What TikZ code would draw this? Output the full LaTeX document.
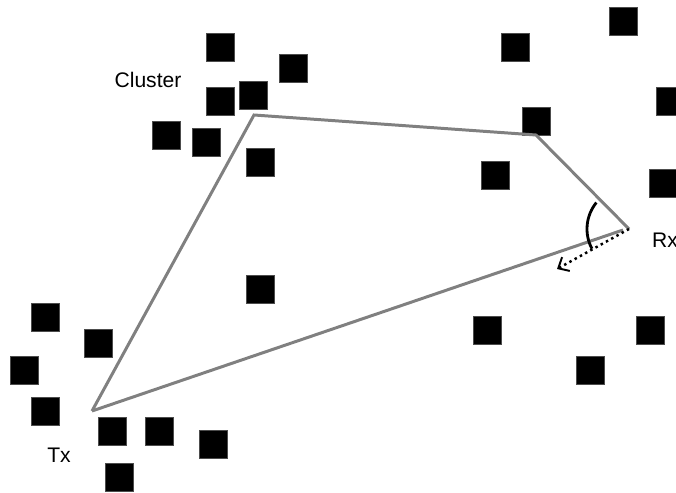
\documentclass[tikz,border=0pt]{standalone}
\usepackage{fontspec}
\setmainfont{Liberation Sans}
\usepackage{tikz}
\usetikzlibrary{arrows.meta, positioning}
\definecolor{raygray}{RGB}{128,128,128}

\begin{document}
\begin{tikzpicture}[
  x=0.02cm, y=-0.02cm,
  scat/.style  = {rectangle, fill=black, draw=black!70, line width=0.3pt,
                  minimum size=0.56cm, inner sep=0pt},
  ray/.style   = {draw=raygray, line width=1.7pt, line join=miter},
  lbl/.style   = {inner sep=0pt, font=\fontsize{12}{14}\selectfont},
  arr/.style   = {-{Straight Barb[length=5pt, width=9pt, line width=1.1pt]},
                  dotted, line width=1.4pt, color=black},
]
\useasboundingbox (0,0) rectangle (676,493);

%% Scatterers
\foreach \x/\y [count=\i] in {220/47, 293/68, 220/101, 253/95, 166/135,
    206/142, 260/162, 623/21, 515/47, 670/101, 536/121, 495/175, 663/183,
    45/317, 98/343, 24/370, 45/411, 112/431, 159/431, 213/444, 119/477,
    260/289, 487/330, 650/330, 590/370} {
  \node[scat] (s\i) at (\x,\y) {};
}

%% Path vertices
\coordinate (tx)  at (92,411);
\coordinate (cl)  at (254,115);
\coordinate (bnc) at (536,135);
\coordinate (rx)  at (629,229);
\coordinate (rxl) at (623,230);
\coordinate (dir) at (557,269);

%% Labels
\node[lbl] (clusterlbl) at (148,80)  {Cluster};
\node[lbl] (txlbl)      at (59,455)  {Tx};
\node[lbl] (rxlbl)      at (665,240) {Rx};

%% Propagation paths
\draw[ray] (tx) -- (cl) -- (bnc) -- (rx);
\draw[ray] (tx) -- (rxl);

%% Angle of arrival
\draw[arr] (rx) -- (dir);
\draw[black, line width=1.6pt] (rx) ++(-141:42) arc[start angle=-141, end angle=-208, radius=42];

\end{tikzpicture}
\end{document}
